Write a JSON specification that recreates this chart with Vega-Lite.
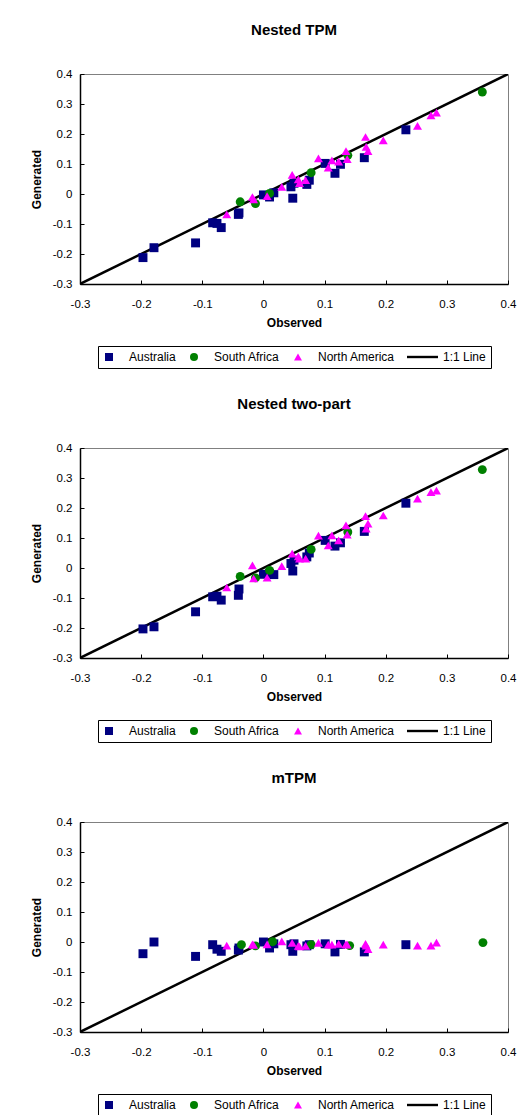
{
  "$schema": "https://vega.github.io/schema/vega-lite/v6.json",
  "background": "white",
  "padding": {"left": 29, "top": 22, "right": 5, "bottom": 0},
  "datasets": {
    "pts": [
      {"panel":"Nested TPM","series":"Australia","observed":-0.197,"generated":-0.212},
      {"panel":"Nested TPM","series":"Australia","observed":-0.179,"generated":-0.179},
      {"panel":"Nested TPM","series":"Australia","observed":-0.111,"generated":-0.163},
      {"panel":"Nested TPM","series":"Australia","observed":-0.083,"generated":-0.096},
      {"panel":"Nested TPM","series":"Australia","observed":-0.076,"generated":-0.098},
      {"panel":"Nested TPM","series":"Australia","observed":-0.069,"generated":-0.112},
      {"panel":"Nested TPM","series":"Australia","observed":-0.040,"generated":-0.063},
      {"panel":"Nested TPM","series":"Australia","observed":-0.041,"generated":-0.068},
      {"panel":"Nested TPM","series":"Australia","observed":0.000,"generated":-0.003},
      {"panel":"Nested TPM","series":"Australia","observed":0.010,"generated":-0.010},
      {"panel":"Nested TPM","series":"Australia","observed":0.017,"generated":0.004},
      {"panel":"Nested TPM","series":"Australia","observed":0.045,"generated":0.024},
      {"panel":"Nested TPM","series":"Australia","observed":0.048,"generated":-0.014},
      {"panel":"Nested TPM","series":"Australia","observed":0.050,"generated":0.036},
      {"panel":"Nested TPM","series":"Australia","observed":0.071,"generated":0.032},
      {"panel":"Nested TPM","series":"Australia","observed":0.075,"generated":0.046},
      {"panel":"Nested TPM","series":"Australia","observed":0.101,"generated":0.102},
      {"panel":"Nested TPM","series":"Australia","observed":0.117,"generated":0.069},
      {"panel":"Nested TPM","series":"Australia","observed":0.126,"generated":0.099},
      {"panel":"Nested TPM","series":"Australia","observed":0.165,"generated":0.121},
      {"panel":"Nested TPM","series":"Australia","observed":0.233,"generated":0.214},
      {"panel":"Nested TPM","series":"South Africa","observed":-0.038,"generated":-0.026},
      {"panel":"Nested TPM","series":"South Africa","observed":-0.013,"generated":-0.032},
      {"panel":"Nested TPM","series":"South Africa","observed":0.010,"generated":0.002},
      {"panel":"Nested TPM","series":"South Africa","observed":0.078,"generated":0.071},
      {"panel":"Nested TPM","series":"South Africa","observed":0.138,"generated":0.129},
      {"panel":"Nested TPM","series":"South Africa","observed":0.358,"generated":0.340},
      {"panel":"Nested TPM","series":"North America","observed":-0.060,"generated":-0.068},
      {"panel":"Nested TPM","series":"North America","observed":-0.018,"generated":-0.010},
      {"panel":"Nested TPM","series":"North America","observed":-0.016,"generated":-0.018},
      {"panel":"Nested TPM","series":"North America","observed":0.006,"generated":-0.007},
      {"panel":"Nested TPM","series":"North America","observed":0.030,"generated":0.024},
      {"panel":"Nested TPM","series":"North America","observed":0.047,"generated":0.064},
      {"panel":"Nested TPM","series":"North America","observed":0.057,"generated":0.049},
      {"panel":"Nested TPM","series":"North America","observed":0.059,"generated":0.036},
      {"panel":"Nested TPM","series":"North America","observed":0.069,"generated":0.046},
      {"panel":"Nested TPM","series":"North America","observed":0.090,"generated":0.119},
      {"panel":"Nested TPM","series":"North America","observed":0.106,"generated":0.088},
      {"panel":"Nested TPM","series":"North America","observed":0.112,"generated":0.112},
      {"panel":"Nested TPM","series":"North America","observed":0.123,"generated":0.108},
      {"panel":"Nested TPM","series":"North America","observed":0.135,"generated":0.143},
      {"panel":"Nested TPM","series":"North America","observed":0.137,"generated":0.116},
      {"panel":"Nested TPM","series":"North America","observed":0.167,"generated":0.190},
      {"panel":"Nested TPM","series":"North America","observed":0.168,"generated":0.157},
      {"panel":"Nested TPM","series":"North America","observed":0.171,"generated":0.143},
      {"panel":"Nested TPM","series":"North America","observed":0.196,"generated":0.179},
      {"panel":"Nested TPM","series":"North America","observed":0.252,"generated":0.227},
      {"panel":"Nested TPM","series":"North America","observed":0.274,"generated":0.262},
      {"panel":"Nested TPM","series":"North America","observed":0.283,"generated":0.271},

      {"panel":"Nested two-part","series":"Australia","observed":-0.197,"generated":-0.203},
      {"panel":"Nested two-part","series":"Australia","observed":-0.179,"generated":-0.196},
      {"panel":"Nested two-part","series":"Australia","observed":-0.111,"generated":-0.146},
      {"panel":"Nested two-part","series":"Australia","observed":-0.083,"generated":-0.096},
      {"panel":"Nested two-part","series":"Australia","observed":-0.076,"generated":-0.094},
      {"panel":"Nested two-part","series":"Australia","observed":-0.069,"generated":-0.107},
      {"panel":"Nested two-part","series":"Australia","observed":-0.040,"generated":-0.070},
      {"panel":"Nested two-part","series":"Australia","observed":-0.041,"generated":-0.091},
      {"panel":"Nested two-part","series":"Australia","observed":0.000,"generated":-0.021},
      {"panel":"Nested two-part","series":"Australia","observed":0.010,"generated":-0.018},
      {"panel":"Nested two-part","series":"Australia","observed":0.017,"generated":-0.022},
      {"panel":"Nested two-part","series":"Australia","observed":0.045,"generated":0.015},
      {"panel":"Nested two-part","series":"Australia","observed":0.048,"generated":-0.010},
      {"panel":"Nested two-part","series":"Australia","observed":0.050,"generated":0.026},
      {"panel":"Nested two-part","series":"Australia","observed":0.071,"generated":0.037},
      {"panel":"Nested two-part","series":"Australia","observed":0.075,"generated":0.050},
      {"panel":"Nested two-part","series":"Australia","observed":0.101,"generated":0.092},
      {"panel":"Nested two-part","series":"Australia","observed":0.117,"generated":0.073},
      {"panel":"Nested two-part","series":"Australia","observed":0.126,"generated":0.084},
      {"panel":"Nested two-part","series":"Australia","observed":0.165,"generated":0.122},
      {"panel":"Nested two-part","series":"Australia","observed":0.233,"generated":0.216},
      {"panel":"Nested two-part","series":"South Africa","observed":-0.038,"generated":-0.028},
      {"panel":"Nested two-part","series":"South Africa","observed":-0.013,"generated":-0.033},
      {"panel":"Nested two-part","series":"South Africa","observed":0.010,"generated":-0.008},
      {"panel":"Nested two-part","series":"South Africa","observed":0.078,"generated":0.062},
      {"panel":"Nested two-part","series":"South Africa","observed":0.138,"generated":0.120},
      {"panel":"Nested two-part","series":"South Africa","observed":0.358,"generated":0.328},
      {"panel":"Nested two-part","series":"North America","observed":-0.060,"generated":-0.065},
      {"panel":"Nested two-part","series":"North America","observed":-0.018,"generated":0.009},
      {"panel":"Nested two-part","series":"North America","observed":-0.016,"generated":-0.035},
      {"panel":"Nested two-part","series":"North America","observed":0.006,"generated":-0.032},
      {"panel":"Nested two-part","series":"North America","observed":0.030,"generated":0.006},
      {"panel":"Nested two-part","series":"North America","observed":0.047,"generated":0.048},
      {"panel":"Nested two-part","series":"North America","observed":0.057,"generated":0.039},
      {"panel":"Nested two-part","series":"North America","observed":0.059,"generated":0.031},
      {"panel":"Nested two-part","series":"North America","observed":0.069,"generated":0.031},
      {"panel":"Nested two-part","series":"North America","observed":0.090,"generated":0.108},
      {"panel":"Nested two-part","series":"North America","observed":0.106,"generated":0.075},
      {"panel":"Nested two-part","series":"North America","observed":0.112,"generated":0.109},
      {"panel":"Nested two-part","series":"North America","observed":0.123,"generated":0.092},
      {"panel":"Nested two-part","series":"North America","observed":0.135,"generated":0.142},
      {"panel":"Nested two-part","series":"North America","observed":0.137,"generated":0.111},
      {"panel":"Nested two-part","series":"North America","observed":0.167,"generated":0.173},
      {"panel":"Nested two-part","series":"North America","observed":0.168,"generated":0.131},
      {"panel":"Nested two-part","series":"North America","observed":0.171,"generated":0.148},
      {"panel":"Nested two-part","series":"North America","observed":0.196,"generated":0.175},
      {"panel":"Nested two-part","series":"North America","observed":0.252,"generated":0.231},
      {"panel":"Nested two-part","series":"North America","observed":0.274,"generated":0.253},
      {"panel":"Nested two-part","series":"North America","observed":0.283,"generated":0.258},

      {"panel":"mTPM","series":"Australia","observed":-0.197,"generated":-0.039},
      {"panel":"mTPM","series":"Australia","observed":-0.179,"generated":0.000},
      {"panel":"mTPM","series":"Australia","observed":-0.111,"generated":-0.048},
      {"panel":"mTPM","series":"Australia","observed":-0.083,"generated":-0.009},
      {"panel":"mTPM","series":"Australia","observed":-0.076,"generated":-0.024},
      {"panel":"mTPM","series":"Australia","observed":-0.069,"generated":-0.031},
      {"panel":"mTPM","series":"Australia","observed":-0.040,"generated":-0.020},
      {"panel":"mTPM","series":"Australia","observed":-0.041,"generated":-0.027},
      {"panel":"mTPM","series":"Australia","observed":0.000,"generated":0.000},
      {"panel":"mTPM","series":"Australia","observed":0.010,"generated":-0.020},
      {"panel":"mTPM","series":"Australia","observed":0.017,"generated":-0.006},
      {"panel":"mTPM","series":"Australia","observed":0.045,"generated":-0.009},
      {"panel":"mTPM","series":"Australia","observed":0.048,"generated":-0.031},
      {"panel":"mTPM","series":"Australia","observed":0.050,"generated":-0.006},
      {"panel":"mTPM","series":"Australia","observed":0.071,"generated":-0.013},
      {"panel":"mTPM","series":"Australia","observed":0.075,"generated":-0.009},
      {"panel":"mTPM","series":"Australia","observed":0.101,"generated":-0.006},
      {"panel":"mTPM","series":"Australia","observed":0.117,"generated":-0.033},
      {"panel":"mTPM","series":"Australia","observed":0.126,"generated":-0.008},
      {"panel":"mTPM","series":"Australia","observed":0.165,"generated":-0.033},
      {"panel":"mTPM","series":"Australia","observed":0.233,"generated":-0.009},
      {"panel":"mTPM","series":"South Africa","observed":-0.036,"generated":-0.009},
      {"panel":"mTPM","series":"South Africa","observed":-0.013,"generated":-0.013},
      {"panel":"mTPM","series":"South Africa","observed":0.015,"generated":0.001},
      {"panel":"mTPM","series":"South Africa","observed":0.078,"generated":-0.009},
      {"panel":"mTPM","series":"South Africa","observed":0.141,"generated":-0.012},
      {"panel":"mTPM","series":"South Africa","observed":0.359,"generated":-0.002},
      {"panel":"mTPM","series":"North America","observed":-0.060,"generated":-0.012},
      {"panel":"mTPM","series":"North America","observed":-0.018,"generated":-0.008},
      {"panel":"mTPM","series":"North America","observed":-0.016,"generated":-0.010},
      {"panel":"mTPM","series":"North America","observed":0.006,"generated":-0.008},
      {"panel":"mTPM","series":"North America","observed":0.030,"generated":0.002},
      {"panel":"mTPM","series":"North America","observed":0.047,"generated":-0.003},
      {"panel":"mTPM","series":"North America","observed":0.057,"generated":-0.013},
      {"panel":"mTPM","series":"North America","observed":0.059,"generated":-0.015},
      {"panel":"mTPM","series":"North America","observed":0.069,"generated":-0.013},
      {"panel":"mTPM","series":"North America","observed":0.090,"generated":-0.003},
      {"panel":"mTPM","series":"North America","observed":0.106,"generated":-0.009},
      {"panel":"mTPM","series":"North America","observed":0.112,"generated":-0.009},
      {"panel":"mTPM","series":"North America","observed":0.123,"generated":-0.006},
      {"panel":"mTPM","series":"North America","observed":0.135,"generated":-0.008},
      {"panel":"mTPM","series":"North America","observed":0.137,"generated":-0.009},
      {"panel":"mTPM","series":"North America","observed":0.167,"generated":-0.006},
      {"panel":"mTPM","series":"North America","observed":0.168,"generated":-0.012},
      {"panel":"mTPM","series":"North America","observed":0.171,"generated":-0.024},
      {"panel":"mTPM","series":"North America","observed":0.196,"generated":-0.009},
      {"panel":"mTPM","series":"North America","observed":0.252,"generated":-0.012},
      {"panel":"mTPM","series":"North America","observed":0.274,"generated":-0.012},
      {"panel":"mTPM","series":"North America","observed":0.283,"generated":-0.002}
    ],
    "oneone": [
      {"observed": -0.3, "generated": -0.3},
      {"observed": 0.4, "generated": 0.4}
    ]
  },
  "spacing": 27,
  "resolve": {"legend": {"color": "independent", "shape": "independent"}},
  "vconcat": [
    {
      "title": "Nested TPM",
      "width": 428, "height": 210,
      "layer": [
        {"data": {"name": "oneone"}, "mark": {"type": "line", "color": "black", "strokeWidth": 2.5, "clip": true},
         "encoding": {"x": {"field": "observed", "type": "quantitative", "scale": {"domain": [-0.3, 0.4], "nice": false, "zero": false}},
                      "y": {"field": "generated", "type": "quantitative", "scale": {"domain": [-0.3, 0.4], "nice": false, "zero": false}}}},
        {"data": {"name": "pts"}, "transform": [{"filter": "datum.panel === 'Nested TPM'"}],
         "mark": {"type": "point", "filled": true, "opacity": 1},
         "encoding": {
           "x": {"field": "observed", "type": "quantitative", "title": "Observed", "scale": {"domain": [-0.3, 0.4], "nice": false, "zero": false}, "axis": {"values": [-0.3,-0.2,-0.1,0,0.1,0.2,0.3,0.4], "tickCount": 20, "labelExpr": "'' + datum.value"}},
           "y": {"field": "generated", "type": "quantitative", "title": "Generated", "scale": {"domain": [-0.3, 0.4], "nice": false, "zero": false}, "axis": {"values": [-0.3,-0.2,-0.1,0,0.1,0.2,0.3,0.4], "tickCount": 20, "labelExpr": "'' + datum.value"}},
           "color": {"field": "series", "type": "nominal", "scale": {"domain": ["Australia","South Africa","North America","1:1 Line"], "range": ["#000080","#008000","#FF00FF","#000000"]}, "legend": {"title": null}},
           "shape": {"field": "series", "type": "nominal", "scale": {"domain": ["Australia","South Africa","North America","1:1 Line"], "range": ["square","circle","triangle-up","M-4,-0.3H3.75V0.3H-4Z"]}, "legend": {"title": null}},
           "size": {"value": 80}
         }}
      ]
    },
    {
      "title": "Nested two-part",
      "width": 428, "height": 210,
      "layer": [
        {"data": {"name": "oneone"}, "mark": {"type": "line", "color": "black", "strokeWidth": 2.5, "clip": true},
         "encoding": {"x": {"field": "observed", "type": "quantitative", "scale": {"domain": [-0.3, 0.4], "nice": false, "zero": false}},
                      "y": {"field": "generated", "type": "quantitative", "scale": {"domain": [-0.3, 0.4], "nice": false, "zero": false}}}},
        {"data": {"name": "pts"}, "transform": [{"filter": "datum.panel === 'Nested two-part'"}],
         "mark": {"type": "point", "filled": true, "opacity": 1},
         "encoding": {
           "x": {"field": "observed", "type": "quantitative", "title": "Observed", "scale": {"domain": [-0.3, 0.4], "nice": false, "zero": false}, "axis": {"values": [-0.3,-0.2,-0.1,0,0.1,0.2,0.3,0.4], "tickCount": 20, "labelExpr": "'' + datum.value"}},
           "y": {"field": "generated", "type": "quantitative", "title": "Generated", "scale": {"domain": [-0.3, 0.4], "nice": false, "zero": false}, "axis": {"values": [-0.3,-0.2,-0.1,0,0.1,0.2,0.3,0.4], "tickCount": 20, "labelExpr": "'' + datum.value"}},
           "color": {"field": "series", "type": "nominal", "scale": {"domain": ["Australia","South Africa","North America","1:1 Line"], "range": ["#000080","#008000","#FF00FF","#000000"]}, "legend": {"title": null}},
           "shape": {"field": "series", "type": "nominal", "scale": {"domain": ["Australia","South Africa","North America","1:1 Line"], "range": ["square","circle","triangle-up","M-4,-0.3H3.75V0.3H-4Z"]}, "legend": {"title": null}},
           "size": {"value": 80}
         }}
      ]
    },
    {
      "title": "mTPM",
      "width": 428, "height": 210,
      "layer": [
        {"data": {"name": "oneone"}, "mark": {"type": "line", "color": "black", "strokeWidth": 2.5, "clip": true},
         "encoding": {"x": {"field": "observed", "type": "quantitative", "scale": {"domain": [-0.3, 0.4], "nice": false, "zero": false}},
                      "y": {"field": "generated", "type": "quantitative", "scale": {"domain": [-0.3, 0.4], "nice": false, "zero": false}}}},
        {"data": {"name": "pts"}, "transform": [{"filter": "datum.panel === 'mTPM'"}],
         "mark": {"type": "point", "filled": true, "opacity": 1},
         "encoding": {
           "x": {"field": "observed", "type": "quantitative", "title": "Observed", "scale": {"domain": [-0.3, 0.4], "nice": false, "zero": false}, "axis": {"values": [-0.3,-0.2,-0.1,0,0.1,0.2,0.3,0.4], "tickCount": 20, "labelExpr": "'' + datum.value"}},
           "y": {"field": "generated", "type": "quantitative", "title": "Generated", "scale": {"domain": [-0.3, 0.4], "nice": false, "zero": false}, "axis": {"values": [-0.3,-0.2,-0.1,0,0.1,0.2,0.3,0.4], "tickCount": 20, "labelExpr": "'' + datum.value"}},
           "color": {"field": "series", "type": "nominal", "scale": {"domain": ["Australia","South Africa","North America","1:1 Line"], "range": ["#000080","#008000","#FF00FF","#000000"]}, "legend": {"title": null}},
           "shape": {"field": "series", "type": "nominal", "scale": {"domain": ["Australia","South Africa","North America","1:1 Line"], "range": ["square","circle","triangle-up","M-4,-0.3H3.75V0.3H-4Z"]}, "legend": {"title": null}},
           "size": {"value": 80}
         }}
      ]
    }
  ],
  "config": {
    "font": "Liberation Sans",
    "view": {"stroke": "#808080", "strokeWidth": 1},
    "axis": {"grid": false, "domainColor": "black", "domainWidth": 1.5, "tickColor": "black", "tickSize": -4, "tickWidth": 1,
             "labelFontSize": 11.5, "labelColor": "black", "labelFont": "Liberation Sans", "labelOverlap": false, "labelFlush": false, "labelBound": false,
             "titleFontSize": 12, "titleFontWeight": "bold", "titleColor": "black", "titleFont": "Liberation Sans"},
    "axisX": {"labelPadding": 18, "titlePadding": 8},
    "axisY": {"labelPadding": 12, "titlePadding": 9},
    "title": {"fontSize": 15, "fontWeight": "bold", "font": "Liberation Sans", "color": "black", "offset": 30},
    "legend": {"orient": "bottom", "direction": "horizontal", "strokeColor": "black", "padding": 5, "offset": 17,
               "labelFontSize": 12, "labelFont": "Liberation Sans", "labelColor": "black", "labelOffset": 14, "columnPadding": 12,
               "symbolSize": 64, "symbolStrokeWidth": 0,
               "layout": {"bottom": {"anchor": "middle"}}}
  }
}
